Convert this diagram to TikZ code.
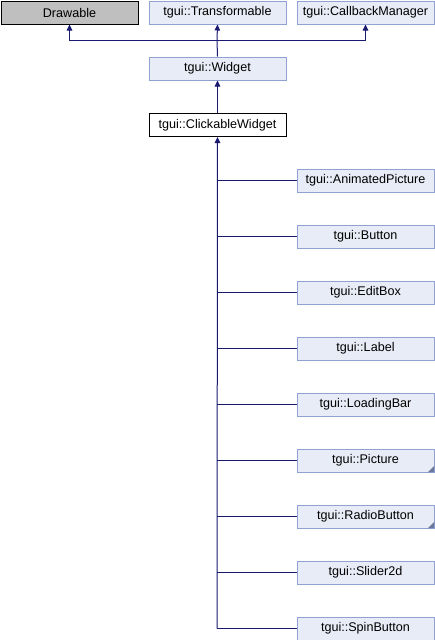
\documentclass[tikz,border=0pt]{standalone}
\usepackage{fontspec}
\setmainfont{Liberation Sans}
\usetikzlibrary{arrows.meta}
\definecolor{edgec}{HTML}{191970}
\definecolor{boxfill}{HTML}{E8ECF6}
\definecolor{boxline}{HTML}{8FA2D0}
\definecolor{greyfill}{HTML}{BFBFBF}
\tikzset{
  cls/.style={draw=boxline, fill=boxfill, line width=1pt, minimum width=137pt, minimum height=23pt, inner sep=0pt, font=\fontsize{12.6}{13}\selectfont, anchor=north west},
  extcls/.style={cls, draw=black, fill=greyfill},
  curcls/.style={cls, draw=black, fill=white},
  edge/.style={draw=edgec, line width=1pt},
  inh/.style={edge, -{Triangle[length=6pt,width=5.5pt]}}
}
\begin{document}
\begin{tikzpicture}[x=1pt,y=-1pt]
\useasboundingbox (0,0) rectangle (434,640);
\node[extcls] (draw) at (0.5,0.5) {Drawable};
\node[cls] (trans) at (148.5,0.5) {tgui::Transformable};
\node[cls] (cbm) at (296.5,0.5) {tgui::CallbackManager};
\node[cls] (widget) at (148.5,56.5) {tgui::Widget};
\node[curcls] (click) at (148.5,113) {tgui::ClickableWidget};
\coordinate (j) at (217,40.5);
\draw[edge] (widget.north) -- (j);
\draw[inh] (j) -- (trans.south);
\draw[inh] (j) -| (draw.south);
\draw[inh] (j) -| (cbm.south);
\draw[inh] (widget.north |- click.north) -- (widget.south);
\foreach \n/\t [count=\i from 0] in {anim/tgui::AnimatedPicture, btn/tgui::Button, edit/tgui::EditBox, lbl/tgui::Label, load/tgui::LoadingBar, pic/tgui::Picture, radio/tgui::RadioButton, slider/tgui::Slider2d, spin/tgui::SpinButton}{
  \node[cls] (\n) at (296.5,168.5+56*\i) {\t};
  \draw[edge] (\n.west) -- (217,180.5+56*\i);
}
\coordinate (tb) at (217,628.5);
\draw[inh] (tb) -- (click.south);
\foreach \n in {pic,radio}{
  \fill[boxline!75!black] ([xshift=-0.5pt,yshift=0.5pt]\n.south east) -- ++(-6,0) -- ++(6,-6) -- cycle;
}
\end{tikzpicture}
\end{document}
